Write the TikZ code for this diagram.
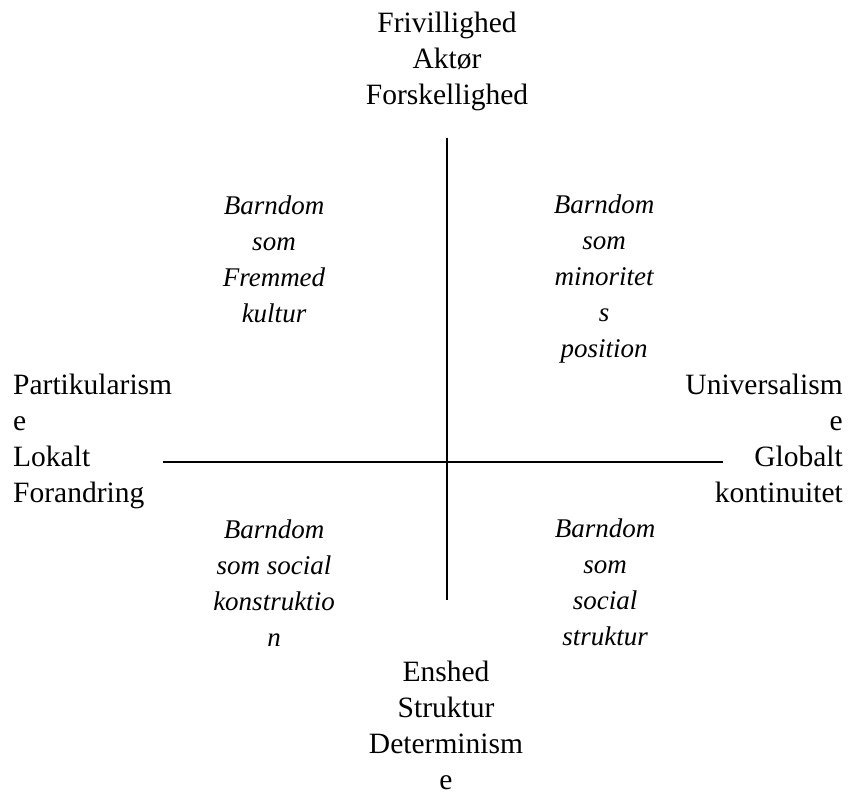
\documentclass[tikz,border=0pt]{standalone}
\usepackage{fontspec}
\setmainfont{Liberation Serif}
\tikzset{
  axislabel/.style={inner sep=0pt, font=\fontsize{29.5}{36}\selectfont},
  quadlabel/.style={inner sep=0pt, align=center, font=\fontsize{27}{36}\selectfont\itshape},
  axisline/.style={line width=2pt, black}
}
\begin{document}
\begin{tikzpicture}[x=1pt,y=-1pt]
\useasboundingbox (0,0) rectangle (851,794);
\coordinate (vt) at (447,138);
\coordinate (vb) at (447,600);
\coordinate (hl) at (163,462);
\coordinate (hr) at (723,462);
\draw[axisline] (vt) -- (vb);
\draw[axisline] (hl) -- (hr);
% anchors are at the baseline of the last line
\node[axislabel, align=center, anchor=base] (top) at (447,105) {Frivillighed\\Aktør\\Forskellighed};
\node[axislabel, align=center, anchor=base] (bottom) at (446,789) {Enshed\\Struktur\\Determinism\\e};
\node[axislabel, align=left, anchor=base west] (left) at (13,502) {Partikularism\\e\\Lokalt\\Forandring};
\node[axislabel, align=right, anchor=base east] (right) at (843,502) {Universalism\\e\\Globalt\\kontinuitet};
\node[quadlabel, anchor=base] (tl) at (274,323) {Barndom\\som\\Fremmed\\kultur};
\node[quadlabel, anchor=base] (tr) at (604,357) {Barndom\\som\\minoritet\\s\\position};
\node[quadlabel, anchor=base] (bl) at (274,646) {Barndom\\som social\\konstruktio\\n};
\node[quadlabel, anchor=base] (br) at (605,645) {Barndom\\som\\social\\struktur};
\end{tikzpicture}
\end{document}
